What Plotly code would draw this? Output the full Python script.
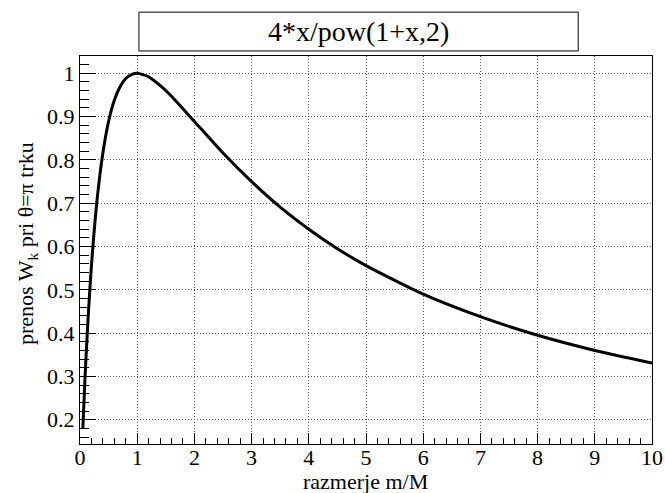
import plotly.graph_objects as go

# odčitane točke krivulje
razmerje = [0.05, 0.08, 0.1, 0.15, 0.2, 0.3, 0.4, 0.5, 0.6, 0.7, 0.8, 0.9, 1.0,
            1.2, 1.4, 1.6, 1.8, 2.0, 2.5, 3.0, 3.5, 4.0, 4.5, 5.0, 6.0, 7.0,
            8.0, 9.0, 10.0]
prenos = [0.181, 0.274, 0.331, 0.454, 0.556, 0.710, 0.816, 0.889, 0.938, 0.969,
          0.988, 0.997, 1.000, 0.992, 0.972, 0.947, 0.918, 0.889, 0.816, 0.750,
          0.691, 0.640, 0.595, 0.556, 0.490, 0.438, 0.395, 0.360, 0.331]

x_ticks = [0, 1, 2, 3, 4, 5, 6, 7, 8, 9, 10]
y_ticks = [0.2, 0.3, 0.4, 0.5, 0.6, 0.7, 0.8, 0.9, 1.0]
y_tick_text = ["0.2", "0.3", "0.4", "0.5", "0.6", "0.7", "0.8", "0.9", "1"]

serif = "Liberation Serif"

fig = go.Figure()
fig.add_trace(go.Scatter(
    x=razmerje, y=prenos, mode="lines",
    line=dict(color="black", width=3, shape="spline", smoothing=0.6),
    showlegend=False, hoverinfo="skip"
))

fig.update_layout(
    width=665, height=493, autosize=False,
    margin=dict(l=80, r=13, t=56, b=49),
    paper_bgcolor="white", plot_bgcolor="white",
    font=dict(family=serif, size=22, color="black"),
    shapes=[dict(type="rect", xref="paper", yref="paper",
                 x0=0.103, x1=0.871, y0=1.013, y1=1.113,
                 line=dict(color="black", width=1), fillcolor="white")],
    annotations=[
        dict(text="4*x/pow(1+x,2)", xref="paper", yref="paper",
             x=0.487, y=1.063, showarrow=False,
             xanchor="center", yanchor="middle",
             font=dict(family=serif, size=28, color="black")),
        dict(text="razmerje m/M", xref="paper", yref="paper",
             x=(365 - 80) / 572, y=-(481 - 444) / 388, showarrow=False,
             xanchor="center", yanchor="middle",
             font=dict(family=serif, size=22, color="black")),
        dict(text="prenos W<sub>k</sub> pri θ=π trku", xref="paper", yref="paper",
             x=-(80 - 27) / 572, y=(444 - 244) / 388, showarrow=False,
             textangle=-90, xanchor="center", yanchor="middle",
             font=dict(family=serif, size=22, color="black")),
    ],
)

fig.update_xaxes(
    range=[0, 10], tickvals=x_ticks, automargin=False,
    showline=True, linecolor="black", linewidth=1, mirror=True,
    ticks="inside", ticklen=11, tickcolor="black", ticklabelstandoff=-6,
    minor=dict(dtick=0.2, ticks="inside", ticklen=6, tickcolor="black", showgrid=False),
    showgrid=True, gridcolor="#555555", griddash="1px,2px", gridwidth=1,
    zeroline=False, tickfont=dict(family=serif, size=22),
)
fig.update_yaxes(
    range=[0.144, 1.04], tickvals=y_ticks, ticktext=y_tick_text, automargin=False,
    showline=True, linecolor="black", linewidth=1, mirror=True,
    ticks="inside", ticklen=16, tickcolor="black",
    minor=dict(dtick=0.02, tick0=0, ticks="inside", ticklen=9, tickcolor="black", showgrid=False),
    showgrid=True, gridcolor="#555555", griddash="1px,2px", gridwidth=1,
    zeroline=False, tickfont=dict(family=serif, size=22),
)

fig.write_html("out.html",
               config={"responsive": False, "displayModeBar": False},
               post_script="document.body.style.margin='0';")
